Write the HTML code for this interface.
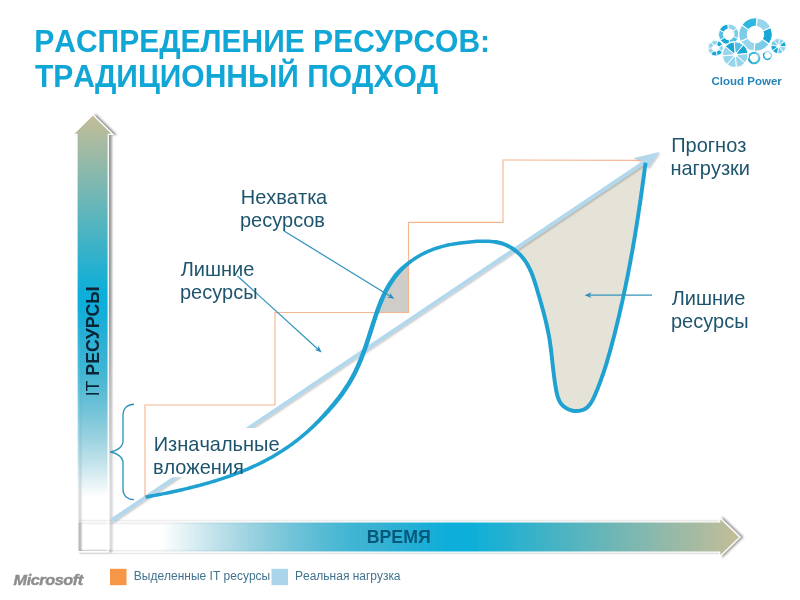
<!DOCTYPE html>
<html lang="ru">
<head>
<meta charset="utf-8">
<title>Распределение ресурсов: традиционный подход</title>
<style>
html,body{margin:0;padding:0;background:#fff;}
body{width:800px;height:600px;overflow:hidden;position:relative;font-family:"Liberation Sans",sans-serif;}
svg{position:absolute;left:0;top:0;display:block;}
text{font-family:"Liberation Sans",sans-serif;font-kerning:none;}
.title{font-weight:bold;font-size:30px;fill:#10a6d5;font-kerning:none;}
.lbl{font-size:20px;fill:#1f546d;}
.axis{font-weight:bold;font-size:17.7px;fill:#0a2436;}
.leg{font-size:12px;fill:#41728e;}
</style>
</head>
<body>
<svg width="800" height="600" viewBox="0 0 800 600">
  <defs>
    <linearGradient id="gv" x1="0" y1="551.5" x2="0" y2="115.3" gradientUnits="userSpaceOnUse">
      <stop offset="0" stop-color="#0996bc" stop-opacity="0"/>
      <stop offset="0.125" stop-color="#0996bc" stop-opacity="0"/>
      <stop offset="0.563" stop-color="#09aeda" stop-opacity="1"/>
      <stop offset="0.585" stop-color="#09aeda" stop-opacity="1"/>
      <stop offset="1" stop-color="#c4bd97"/>
    </linearGradient>
    <linearGradient id="gh" x1="77.3" y1="0" x2="739.6" y2="0" gradientUnits="userSpaceOnUse">
      <stop offset="0" stop-color="#0996bc" stop-opacity="0"/>
      <stop offset="0.125" stop-color="#0996bc" stop-opacity="0"/>
      <stop offset="0.563" stop-color="#09aeda" stop-opacity="1"/>
      <stop offset="0.585" stop-color="#09aeda" stop-opacity="1"/>
      <stop offset="1" stop-color="#c4bd97"/>
    </linearGradient>
    <filter id="lsh" x="-5%" y="-5%" width="110%" height="110%">
      <feGaussianBlur in="SourceAlpha" stdDeviation="1" result="b"/>
      <feOffset in="b" dx="0.6" dy="0.8" result="o"/>
      <feComponentTransfer in="o" result="s"><feFuncA type="linear" slope="0.28"/></feComponentTransfer>
      <feMerge><feMergeNode in="s"/><feMergeNode in="SourceGraphic"/></feMerge>
    </filter>
    <filter id="sh" x="-20%" y="-20%" width="140%" height="140%">
      <feGaussianBlur in="SourceAlpha" stdDeviation="1.25" result="b"/>
      <feOffset in="b" dx="3.1" dy="0.15" result="o"/>
      <feComponentTransfer in="o" result="s"><feFuncA type="linear" slope="0.4"/></feComponentTransfer>
      <feMerge><feMergeNode in="s"/><feMergeNode in="SourceGraphic"/></feMerge>
    </filter>
  </defs>

  <!-- title -->
  <text class="title" transform="translate(34.3 51.5) scale(1 1.04)">РАСПРЕДЕЛЕНИЕ РЕСУРСОВ:</text>
  <text class="title" transform="translate(35 86.6) scale(1 1.04)">ТРАДИЦИОННЫЙ ПОДХОД</text>

  <!-- axes arrows -->
  <g filter="url(#sh)">
    <path d="M76.9 522 H719.7 V517.7 L739.8 537.1 L719.7 556.5 V552.2 H76.9 Z" fill="url(#gh)" stroke="#fff" stroke-width="1.2" stroke-linejoin="miter"/>
  </g>
  <g filter="url(#sh)">
    <path d="M77 551.6 V134.3 H73.1 L92.9 114.85 L112.7 134.3 H108.2 V551.6 Z" fill="url(#gv)" stroke="#fff" stroke-width="1.2" stroke-linejoin="miter"/>
  </g>
  <text class="axis" transform="translate(98.5,396.3) rotate(-90) scale(1 1.04)"><tspan font-weight="normal">IT</tspan> РЕСУРСЫ</text>
  <text class="axis" transform="translate(398.7 543.1) scale(1 1.04)" text-anchor="middle" style="fill:#06587a">ВРЕМЯ</text>

  <!-- shaded regions -->
  <path id="gray" d="M376.6 313.2 L377.3 311.0 L378.2 308.7 L379.0 306.5 L379.8 304.3 L380.7 302.2 L381.6 300.0 L382.5 297.9 L383.5 295.7 L384.5 293.6 L385.5 291.6 L386.6 289.5 L387.7 287.5 L388.9 285.5 L390.1 283.5 L391.3 281.6 L392.6 279.7 L394.0 277.9 L395.4 276.0 L396.8 274.2 L398.4 272.5 L399.9 270.8 L401.6 269.1 L403.3 267.5 L405.0 265.9 L406.8 264.4 L408.7 262.9 L408.6 262.9 L408.6 312.6 Z" fill="#cecdc9"/>
  <path id="beige" d="M513.1 250.5 L515.0 250.3 L516.8 251.8 L518.6 253.3 L520.3 255.0 L521.9 256.7 L523.4 258.5 L524.8 260.3 L526.1 262.3 L527.3 264.2 L528.4 266.2 L529.4 268.3 L530.4 270.4 L531.3 272.6 L532.2 274.7 L533.0 276.9 L533.8 279.2 L534.6 281.4 L535.3 283.7 L536.0 285.9 L536.6 288.2 L537.3 290.5 L538.0 292.7 L538.7 295.0 L539.3 297.3 L540.0 299.5 L540.6 301.8 L541.3 304.1 L541.9 306.3 L542.5 308.6 L543.2 310.9 L543.8 313.1 L544.4 315.4 L544.9 317.6 L545.5 319.9 L546.0 322.2 L546.6 324.5 L547.1 326.7 L547.6 329.0 L548.0 331.3 L548.5 333.6 L548.9 335.9 L549.3 338.2 L549.7 340.5 L550.1 342.8 L550.4 345.1 L550.7 347.4 L551.0 349.8 L551.3 352.1 L551.6 354.4 L551.8 356.7 L552.1 359.1 L552.3 361.4 L552.6 363.7 L552.8 366.1 L553.1 368.4 L553.4 370.7 L553.6 373.1 L553.9 375.4 L554.2 377.7 L554.5 380.1 L554.9 382.4 L555.2 384.7 L555.6 387.0 L556.0 389.3 L556.5 391.6 L557.0 393.9 L557.5 396.1 L558.2 398.3 L559.1 400.4 L560.2 402.4 L561.5 404.3 L563.2 405.9 L565.1 407.4 L567.2 408.7 L569.4 409.7 L571.8 410.5 L574.2 410.9 L576.6 411.0 L579.0 410.9 L581.2 410.4 L583.4 409.7 L585.3 408.7 L587.1 407.4 L588.7 405.9 L590.1 404.1 L591.4 402.2 L592.5 400.2 L593.6 398.0 L594.6 395.8 L595.6 393.6 L596.5 391.4 L597.4 389.1 L598.3 386.9 L599.2 384.7 L600.0 382.4 L600.8 380.2 L601.6 378.0 L602.4 375.7 L603.2 373.5 L603.9 371.3 L604.7 369.0 L605.4 366.8 L606.1 364.6 L606.8 362.3 L607.4 360.1 L608.1 357.9 L608.7 355.6 L609.4 353.4 L610.0 351.2 L610.6 348.9 L611.2 346.7 L611.8 344.4 L612.4 342.2 L613.0 339.9 L613.6 337.7 L614.2 335.4 L614.8 333.2 L615.3 330.9 L615.9 328.7 L616.5 326.4 L617.0 324.1 L617.6 321.9 L618.1 319.6 L618.6 317.3 L619.2 315.1 L619.7 312.8 L620.2 310.5 L620.8 308.2 L621.3 305.9 L621.8 303.7 L622.3 301.4 L622.8 299.1 L623.3 296.8 L623.8 294.5 L624.3 292.2 L624.8 289.9 L625.2 287.6 L625.7 285.3 L626.2 283.0 L626.6 280.7 L627.1 278.4 L627.6 276.1 L628.0 273.8 L628.5 271.5 L628.9 269.2 L629.3 266.9 L629.8 264.6 L630.2 262.3 L630.6 260.0 L631.1 257.7 L631.5 255.4 L631.9 253.1 L632.3 250.7 L632.7 248.4 L633.1 246.1 L633.5 243.8 L633.9 241.5 L634.3 239.2 L634.7 236.9 L635.1 234.5 L635.5 232.2 L635.9 229.9 L636.2 227.6 L636.6 225.3 L637.0 222.9 L637.4 220.6 L637.7 218.3 L638.1 216.0 L638.4 213.7 L638.8 211.4 L639.1 209.0 L639.5 206.7 L639.8 204.4 L640.2 202.1 L640.5 199.8 L640.8 197.4 L641.2 195.1 L641.5 192.8 L641.8 190.5 L642.2 188.2 L642.5 185.9 L642.8 183.5 L643.1 181.2 L643.4 178.9 L643.7 176.6 L644.0 174.3 L644.3 172.0 L644.6 169.7 L644.9 167.4 L645.2 165.1 L645.5 162.8 Z" fill="#e5e3d8"/>

  <!-- diagonal forecast line -->
  <g filter="url(#lsh)">
    <line x1="111.6" y1="520.3" x2="643" y2="163.1" stroke="#b1d8ec" stroke-width="3.8"/>
    <path d="M659.3 152 L633.3 158.3 L642.5 161.6 L648 168.3 Z" fill="#b1d8ec"/>
  </g>

  <!-- text box covering the diagonal -->
  <rect x="148" y="428" width="150" height="49.3" fill="#fff"/>

  <!-- orange step line -->
  <path d="M145 497 V405 H275 V312.5 H408.5 V222.4 H503 V160 L641 160.4" fill="none" stroke="#f4b691" stroke-width="1.15"/>

  <!-- load curve -->
  <path id="curve" d="M145.9 498.8 L148.2 498.4 L150.4 498.0 L152.7 497.6 L155.0 497.1 L157.3 496.7 L159.6 496.2 L161.8 495.8 L164.1 495.3 L166.4 494.9 L168.7 494.4 L171.0 493.9 L173.3 493.4 L175.6 492.9 L177.9 492.4 L180.2 491.9 L182.5 491.4 L184.8 490.8 L187.1 490.3 L189.4 489.7 L191.7 489.2 L194.0 488.6 L196.3 488.0 L198.5 487.4 L200.8 486.8 L203.1 486.2 L205.4 485.6 L207.7 484.9 L209.9 484.3 L212.2 483.6 L214.5 482.9 L216.7 482.2 L219.0 481.5 L221.2 480.8 L223.5 480.0 L225.7 479.3 L228.0 478.5 L230.2 477.7 L232.4 476.9 L234.6 476.1 L236.8 475.3 L239.0 474.4 L241.2 473.6 L243.4 472.7 L245.6 471.8 L247.7 470.9 L249.9 469.9 L252.1 469.0 L254.2 468.0 L256.3 467.0 L258.5 466.0 L260.6 465.0 L262.7 463.9 L264.8 462.9 L266.8 461.8 L268.9 460.7 L271.0 459.6 L273.0 458.4 L275.0 457.2 L277.1 456.0 L279.1 454.8 L281.1 453.6 L283.0 452.3 L285.0 451.1 L287.0 449.7 L288.9 448.4 L290.8 447.1 L292.8 445.7 L294.6 444.3 L296.5 442.9 L298.4 441.4 L300.2 440.0 L302.1 438.5 L303.9 437.0 L305.7 435.4 L307.5 433.9 L309.3 432.4 L311.1 430.8 L312.8 429.2 L314.6 427.6 L316.3 426.0 L318.0 424.3 L319.7 422.7 L321.4 421.0 L323.1 419.3 L324.8 417.6 L326.4 415.9 L328.0 414.1 L329.7 412.4 L331.2 410.6 L332.8 408.8 L334.4 407.0 L335.9 405.2 L337.4 403.4 L338.9 401.5 L340.4 399.7 L341.9 397.8 L343.3 395.9 L344.7 394.0 L346.0 392.0 L347.4 390.1 L348.7 388.1 L350.0 386.1 L351.2 384.1 L352.4 382.1 L353.6 380.0 L354.7 378.0 L355.8 375.9 L356.9 373.8 L357.9 371.7 L358.9 369.5 L359.9 367.4 L360.9 365.2 L361.8 363.1 L362.7 360.9 L363.6 358.7 L364.4 356.5 L365.2 354.3 L366.1 352.1 L366.9 349.9 L367.6 347.7 L368.4 345.4 L369.2 343.2 L369.9 340.9 L370.6 338.7 L371.4 336.4 L372.1 334.2 L372.8 331.9 L373.5 329.7 L374.3 327.4 L375.0 325.1 L375.7 322.9 L376.4 320.6 L377.2 318.4 L377.9 316.1 L378.7 313.9 L379.5 311.7 L380.3 309.5 L381.1 307.3 L381.9 305.2 L382.8 303.0 L383.7 300.9 L384.6 298.8 L385.5 296.7 L386.5 294.6 L387.5 292.6 L388.6 290.6 L389.7 288.6 L390.8 286.7 L392.0 284.7 L393.2 282.9 L394.5 281.0 L395.8 279.2 L397.1 277.4 L398.5 275.7 L400.0 274.0 L401.5 272.3 L403.1 270.6 L404.7 269.0 L406.3 267.4 L408.1 265.9 L409.8 264.4 L411.7 263.0 L413.5 261.6 L415.5 260.2 L417.4 259.0 L419.4 257.8 L421.5 256.6 L423.5 255.5 L425.6 254.5 L427.7 253.5 L429.9 252.5 L432.0 251.7 L434.1 250.8 L436.3 250.1 L438.5 249.4 L440.7 248.7 L442.8 248.1 L445.0 247.6 L447.3 247.0 L449.5 246.6 L451.7 246.1 L454.0 245.7 L456.2 245.4 L458.5 245.0 L460.8 244.7 L463.1 244.5 L465.4 244.2 L467.8 243.9 L470.1 243.7 L472.5 243.5 L474.8 243.3 L477.2 243.1 L479.5 243.0 L481.8 242.9 L484.2 242.9 L486.5 242.9 L488.8 243.0 L491.1 243.2 L493.3 243.4 L495.5 244.0 L497.7 244.4 L499.9 244.9 L502.0 245.6 L504.0 246.3 L506.1 247.2 L508.1 248.2 L510.0 249.3 L511.9 250.5 L513.8 251.9 L515.6 253.3 L517.3 254.8 L518.9 256.3 L520.4 258.0 L521.8 259.7 L523.1 261.5 L524.4 263.3 L525.6 265.2 L526.6 267.2 L527.7 269.2 L528.6 271.2 L529.5 273.3 L530.4 275.4 L531.2 277.6 L531.9 279.8 L532.7 282.0 L533.4 284.2 L534.1 286.5 L534.8 288.8 L535.4 291.0 L536.1 293.3 L536.8 295.6 L537.4 297.8 L538.1 300.1 L538.7 302.3 L539.4 304.6 L540.0 306.9 L540.6 309.1 L541.3 311.4 L541.9 313.6 L542.4 315.9 L543.0 318.1 L543.6 320.4 L544.1 322.6 L544.6 324.9 L545.1 327.2 L545.6 329.4 L546.1 331.7 L546.6 334.0 L547.0 336.2 L547.4 338.5 L547.8 340.8 L548.1 343.1 L548.4 345.4 L548.7 347.7 L549.0 350.0 L549.3 352.3 L549.6 354.6 L549.9 357.0 L550.1 359.3 L550.4 361.6 L550.6 364.0 L550.9 366.3 L551.1 368.6 L551.4 371.0 L551.7 373.3 L552.0 375.7 L552.3 378.0 L552.6 380.3 L552.9 382.7 L553.3 385.0 L553.7 387.3 L554.1 389.7 L554.5 392.0 L555.0 394.3 L555.6 396.7 L556.4 399.0 L557.3 401.3 L558.5 403.4 L560.0 405.5 L561.8 407.4 L563.9 409.1 L566.3 410.5 L568.7 411.6 L571.3 412.4 L574.0 412.9 L576.6 413.0 L579.2 412.8 L581.7 412.3 L584.1 411.5 L586.4 410.4 L588.4 408.9 L590.1 407.2 L591.7 405.3 L593.0 403.3 L594.3 401.1 L595.4 398.9 L596.4 396.6 L597.4 394.4 L598.3 392.1 L599.3 389.9 L600.1 387.6 L601.0 385.4 L601.9 383.1 L602.7 380.9 L603.5 378.6 L604.3 376.4 L605.1 374.1 L605.8 371.9 L606.5 369.7 L607.3 367.4 L608.0 365.2 L608.7 362.9 L609.3 360.7 L610.0 358.4 L610.6 356.2 L611.3 353.9 L611.9 351.7 L612.5 349.4 L613.1 347.2 L613.8 345.0 L614.3 342.7 L614.9 340.4 L615.5 338.2 L616.1 335.9 L616.7 333.7 L617.3 331.4 L617.8 329.1 L618.4 326.9 L618.9 324.6 L619.5 322.3 L620.0 320.1 L620.6 317.8 L621.1 315.5 L621.6 313.2 L622.2 310.9 L622.7 308.7 L623.2 306.4 L623.7 304.1 L624.2 301.8 L624.7 299.5 L625.2 297.2 L625.7 294.9 L626.2 292.6 L626.7 290.3 L627.2 288.0 L627.6 285.7 L628.1 283.4 L628.6 281.1 L629.0 278.8 L629.5 276.5 L630.0 274.2 L630.4 271.9 L630.8 269.6 L631.3 267.3 L631.7 265.0 L632.2 262.7 L632.6 260.3 L633.0 258.0 L633.4 255.7 L633.9 253.4 L634.3 251.1 L634.7 248.8 L635.1 246.5 L635.5 244.1 L635.9 241.8 L636.3 239.5 L636.7 237.2 L637.1 234.9 L637.4 232.5 L637.8 230.2 L638.2 227.9 L638.6 225.6 L638.9 223.3 L639.3 220.9 L639.7 218.6 L640.0 216.3 L640.4 214.0 L640.7 211.6 L641.1 209.3 L641.4 207.0 L641.8 204.7 L642.1 202.4 L642.5 200.0 L642.8 197.7 L643.1 195.4 L643.5 193.1 L643.8 190.8 L644.1 188.5 L644.4 186.1 L644.7 183.8 L645.1 181.5 L645.4 179.2 L645.7 176.9 L646.0 174.6 L646.3 172.2 L646.6 169.9 L646.9 167.6 L647.2 165.3 L647.5 163.0 L643.6 162.5 L643.3 164.8 L643.0 167.1 L642.7 169.4 L642.4 171.7 L642.1 174.0 L641.8 176.3 L641.5 178.7 L641.1 181.0 L640.8 183.3 L640.5 185.6 L640.2 187.9 L639.9 190.2 L639.5 192.5 L639.2 194.8 L638.9 197.2 L638.6 199.5 L638.2 201.8 L637.9 204.1 L637.5 206.4 L637.2 208.7 L636.8 211.1 L636.5 213.4 L636.1 215.7 L635.8 218.0 L635.4 220.3 L635.0 222.6 L634.7 225.0 L634.3 227.3 L633.9 229.6 L633.5 231.9 L633.2 234.2 L632.8 236.5 L632.4 238.8 L632.0 241.2 L631.6 243.5 L631.2 245.8 L630.8 248.1 L630.4 250.4 L630.0 252.7 L629.5 255.0 L629.1 257.3 L628.7 259.6 L628.3 261.9 L627.8 264.2 L627.4 266.5 L627.0 268.8 L626.5 271.1 L626.1 273.4 L625.6 275.7 L625.2 278.0 L624.7 280.3 L624.2 282.6 L623.8 284.9 L623.3 287.2 L622.8 289.5 L622.3 291.8 L621.8 294.1 L621.4 296.4 L620.9 298.7 L620.4 300.9 L619.9 303.2 L619.3 305.5 L618.8 307.8 L618.3 310.1 L617.8 312.3 L617.3 314.6 L616.7 316.9 L616.2 319.1 L615.6 321.4 L615.1 323.7 L614.5 325.9 L614.0 328.2 L613.4 330.4 L612.9 332.7 L612.3 335.0 L611.7 337.2 L611.1 339.4 L610.5 341.7 L609.9 343.9 L609.3 346.2 L608.7 348.4 L608.1 350.6 L607.5 352.9 L606.8 355.1 L606.2 357.3 L605.5 359.5 L604.9 361.8 L604.2 364.0 L603.5 366.2 L602.8 368.4 L602.1 370.7 L601.3 372.9 L600.5 375.1 L599.8 377.3 L599.0 379.5 L598.2 381.7 L597.3 384.0 L596.5 386.2 L595.6 388.4 L594.7 390.6 L593.8 392.8 L592.8 395.1 L591.8 397.2 L590.8 399.3 L589.7 401.2 L588.5 403.0 L587.2 404.5 L585.8 405.9 L584.3 407.0 L582.6 407.9 L580.7 408.5 L578.7 408.9 L576.6 409.1 L574.4 408.9 L572.3 408.6 L570.1 407.9 L568.1 407.0 L566.2 405.8 L564.5 404.5 L563.1 403.0 L561.9 401.4 L560.9 399.6 L560.1 397.6 L559.4 395.6 L558.9 393.4 L558.4 391.2 L558.0 389.0 L557.6 386.7 L557.2 384.4 L556.8 382.1 L556.5 379.8 L556.2 377.5 L555.9 375.2 L555.6 372.8 L555.3 370.5 L555.1 368.2 L554.8 365.9 L554.5 363.5 L554.3 361.2 L554.0 358.9 L553.8 356.5 L553.5 354.2 L553.2 351.8 L553.0 349.5 L552.7 347.2 L552.3 344.8 L552.0 342.5 L551.7 340.2 L551.3 337.8 L550.9 335.5 L550.4 333.2 L550.0 330.9 L549.5 328.6 L549.0 326.3 L548.5 324.0 L548.0 321.7 L547.4 319.4 L546.8 317.2 L546.3 314.9 L545.7 312.6 L545.1 310.3 L544.4 308.1 L543.8 305.8 L543.2 303.5 L542.5 301.3 L541.9 299.0 L541.2 296.7 L540.6 294.5 L539.9 292.2 L539.2 289.9 L538.5 287.6 L537.9 285.4 L537.2 283.1 L536.4 280.8 L535.7 278.5 L534.9 276.3 L534.1 274.0 L533.2 271.8 L532.2 269.6 L531.2 267.4 L530.1 265.3 L529.0 263.2 L527.7 261.2 L526.4 259.2 L524.9 257.3 L523.4 255.4 L521.7 253.6 L519.9 251.9 L518.1 250.2 L516.2 248.7 L514.2 247.3 L512.1 245.9 L509.9 244.7 L507.7 243.6 L505.5 242.7 L503.2 241.8 L500.9 241.1 L498.5 240.6 L496.2 240.1 L493.8 240.0 L491.4 239.7 L489.0 239.5 L486.6 239.4 L484.2 239.4 L481.8 239.4 L479.3 239.5 L476.9 239.6 L474.5 239.8 L472.1 240.0 L469.8 240.2 L467.4 240.5 L465.1 240.7 L462.7 241.0 L460.4 241.3 L458.0 241.6 L455.7 241.9 L453.4 242.3 L451.1 242.7 L448.8 243.1 L446.5 243.6 L444.2 244.2 L442.0 244.7 L439.7 245.4 L437.4 246.0 L435.2 246.8 L432.9 247.6 L430.7 248.4 L428.5 249.3 L426.3 250.3 L424.1 251.3 L421.9 252.4 L419.8 253.5 L417.7 254.7 L415.6 256.0 L413.5 257.3 L411.5 258.7 L409.5 260.0 L407.5 261.4 L405.6 262.9 L403.7 264.4 L401.9 266.0 L400.1 267.6 L398.4 269.3 L396.7 271.0 L395.1 272.8 L393.6 274.6 L392.2 276.5 L390.8 278.4 L389.4 280.4 L388.2 282.3 L386.9 284.4 L385.7 286.4 L384.6 288.5 L383.5 290.5 L382.5 292.7 L381.5 294.8 L380.5 296.9 L379.5 299.1 L378.6 301.3 L377.7 303.5 L376.9 305.7 L376.0 308.0 L375.2 310.2 L374.4 312.4 L373.7 314.7 L372.9 317.0 L372.2 319.2 L371.4 321.5 L370.7 323.8 L370.0 326.0 L369.2 328.3 L368.5 330.6 L367.8 332.8 L367.1 335.1 L366.4 337.3 L365.6 339.5 L364.9 341.8 L364.1 344.0 L363.4 346.2 L362.6 348.4 L361.8 350.6 L361.0 352.8 L360.2 354.9 L359.4 357.1 L358.5 359.2 L357.6 361.3 L356.7 363.5 L355.8 365.6 L354.9 367.6 L353.9 369.7 L352.9 371.8 L351.8 373.8 L350.8 375.8 L349.7 377.8 L348.5 379.8 L347.4 381.8 L346.2 383.7 L344.9 385.6 L343.6 387.6 L342.3 389.5 L341.0 391.3 L339.7 393.2 L338.3 395.1 L336.9 396.9 L335.4 398.8 L334.0 400.6 L332.5 402.4 L331.0 404.2 L329.5 406.0 L328.0 407.8 L326.5 409.5 L324.9 411.3 L323.3 413.0 L321.8 414.8 L320.2 416.5 L318.6 418.2 L317.0 419.9 L315.3 421.6 L313.7 423.2 L312.0 424.9 L310.3 426.5 L308.6 428.1 L306.9 429.7 L305.2 431.2 L303.4 432.8 L301.7 434.3 L299.9 435.8 L298.1 437.2 L296.2 438.7 L294.4 440.1 L292.6 441.5 L290.7 442.9 L288.8 444.2 L286.9 445.5 L285.0 446.8 L283.1 448.1 L281.2 449.4 L279.2 450.6 L277.2 451.8 L275.3 453.0 L273.3 454.2 L271.3 455.4 L269.3 456.5 L267.2 457.6 L265.2 458.7 L263.2 459.8 L261.1 460.8 L259.0 461.9 L256.9 462.9 L254.8 463.9 L252.7 464.8 L250.6 465.8 L248.5 466.7 L246.4 467.7 L244.2 468.6 L242.1 469.4 L239.9 470.3 L237.8 471.2 L235.6 472.0 L233.4 472.8 L231.2 473.6 L229.0 474.4 L226.8 475.2 L224.6 476.0 L222.4 476.7 L220.2 477.4 L217.9 478.2 L215.7 478.9 L213.5 479.6 L211.2 480.2 L209.0 480.9 L206.7 481.5 L204.4 482.2 L202.2 482.8 L199.9 483.4 L197.7 484.0 L195.4 484.6 L193.1 485.2 L190.8 485.8 L188.6 486.3 L186.3 486.9 L184.0 487.4 L181.7 488.0 L179.4 488.5 L177.1 489.0 L174.9 489.5 L172.6 490.0 L170.3 490.5 L168.0 491.0 L165.7 491.4 L163.4 491.9 L161.2 492.4 L158.9 492.8 L156.6 493.3 L154.3 493.7 L152.1 494.1 L149.8 494.6 L147.5 495.0 L145.3 495.4 Z" fill="#1fa2d1"/>

  <!-- brace -->
  <path d="M134 404.2 C128 404.2 123 408 123 415 V441 C123 447 117 451 110.2 452 C117 453 123 457 123 463 V489 C123 496 128 499.6 134 499.6" fill="none" stroke="#3193ba" stroke-width="1.35"/>

  <!-- pointer arrows -->
  <g stroke="#3394bd" stroke-width="1.25" fill="none">
    <line x1="283.7" y1="230.7" x2="390.2" y2="296.3"/>
    <line x1="237.5" y1="276.0" x2="318.0" y2="349.2"/>
    <line x1="652.0" y1="295.2" x2="589.4" y2="295.2"/>
  </g>
  <g fill="#2b8db6">
    <path d="M394.3 298.8 L386.8 297.6 L390.2 296.3 L389.9 292.7 Z"/>
    <path d="M321.6 352.4 L314.5 349.8 L318.0 349.2 L318.4 345.5 Z"/>
    <path d="M584.6 295.2 L591.6 292.3 L589.4 295.2 L591.6 298.1 Z"/>
  </g>

  <!-- labels -->
  <text class="lbl" transform="translate(240.7 204.3) scale(1 1.04)">Нехватка</text>
  <text class="lbl" transform="translate(239.9 227.3) scale(1 1.04)">ресурсов</text>
  <text class="lbl" transform="translate(180.7 276.0) scale(1 1.04)">Лишние</text>
  <text class="lbl" transform="translate(179.9 299.0) scale(1 1.04)">ресурсы</text>
  <text class="lbl" transform="translate(153.7 450.5) scale(1 1.04)">Изначальные</text>
  <text class="lbl" transform="translate(152.9 473.7) scale(1 1.04)">вложения</text>
  <text class="lbl" transform="translate(671.2 152.0) scale(1 1.04)">Прогноз</text>
  <text class="lbl" transform="translate(670.4 175.0) scale(1 1.04)">нагрузки</text>
  <text class="lbl" transform="translate(671.7 305.0) scale(1 1.04)">Лишние</text>
  <text class="lbl" transform="translate(670.9 328.3) scale(1 1.04)">ресурсы</text>

  <!-- legend -->
  <rect x="110" y="568.8" width="16.5" height="16.4" fill="#f79646"/>
  <text class="leg" transform="translate(133.8 580.4) scale(1 1.04)">Выделенные IT ресурсы</text>
  <rect x="271.5" y="568.8" width="16.5" height="16.4" fill="#a9d4ea"/>
  <text class="leg" transform="translate(295 580.4) scale(1 1.04)">Реальная нагрузка</text>

  <!-- Microsoft -->
  <text transform="translate(13.6 585.2) scale(1.14 1)" font-size="14.2" font-weight="bold" font-style="italic" fill="#8e8e8e" stroke="#8e8e8e" stroke-width="0.45" letter-spacing="-0.35">Microsoft</text>

  <!-- Cloud Power logo -->
  <g id="logo">
    <circle cx="715.70" cy="48.20" r="8.60" fill="#fff"/>
    <path d="M717.72 40.67 A7.80 7.80 0 0 1 722.85 45.08 L718.82 46.84 A3.40 3.40 0 0 0 716.58 44.92 Z" fill="#1aa7d6" stroke="#fff" stroke-width="0.80" stroke-linejoin="round"/>
    <path d="M722.85 45.08 A7.80 7.80 0 0 1 722.60 51.84 L718.71 49.79 A3.40 3.40 0 0 0 718.82 46.84 Z" fill="#97d5ed" stroke="#fff" stroke-width="0.80" stroke-linejoin="round"/>
    <path d="M722.60 51.84 A7.80 7.80 0 0 1 717.15 55.86 L716.33 51.54 A3.40 3.40 0 0 0 718.71 49.79 Z" fill="#1aa7d6" stroke="#fff" stroke-width="0.80" stroke-linejoin="round"/>
    <path d="M717.15 55.86 A7.80 7.80 0 0 1 710.61 54.11 L713.48 50.78 A3.40 3.40 0 0 0 716.33 51.54 Z" fill="#1aa7d6" stroke="#fff" stroke-width="0.80" stroke-linejoin="round"/>
    <path d="M710.61 54.11 A7.80 7.80 0 0 1 707.91 47.91 L712.30 48.07 A3.40 3.40 0 0 0 713.48 50.78 Z" fill="#97d5ed" stroke="#fff" stroke-width="0.80" stroke-linejoin="round"/>
    <path d="M707.91 47.91 A7.80 7.80 0 0 1 711.07 41.92 L713.68 45.46 A3.40 3.40 0 0 0 712.30 48.07 Z" fill="#97d5ed" stroke="#fff" stroke-width="0.80" stroke-linejoin="round"/>
    <path d="M711.07 41.92 A7.80 7.80 0 0 1 717.72 40.67 L716.58 44.92 A3.40 3.40 0 0 0 713.68 45.46 Z" fill="#97d5ed" stroke="#fff" stroke-width="0.80" stroke-linejoin="round"/>
    <circle cx="728.70" cy="34.30" r="11.00" fill="#fff"/>
    <path d="M727.81 24.14 A10.20 10.20 0 0 1 737.06 28.45 L733.12 31.20 A5.40 5.40 0 0 0 728.23 28.92 Z" fill="#97d5ed" stroke="#fff" stroke-width="0.90" stroke-linejoin="round"/>
    <path d="M737.06 28.45 A10.20 10.20 0 0 1 737.94 38.61 L733.59 36.58 A5.40 5.40 0 0 0 733.12 31.20 Z" fill="#7ccbe8" stroke="#fff" stroke-width="0.90" stroke-linejoin="round"/>
    <path d="M737.94 38.61 A10.20 10.20 0 0 1 729.59 44.46 L729.17 39.68 A5.40 5.40 0 0 0 733.59 36.58 Z" fill="#55c0e4" stroke="#fff" stroke-width="0.90" stroke-linejoin="round"/>
    <path d="M729.59 44.46 A10.20 10.20 0 0 1 720.34 40.15 L724.28 37.40 A5.40 5.40 0 0 0 729.17 39.68 Z" fill="#1aa7d6" stroke="#fff" stroke-width="0.90" stroke-linejoin="round"/>
    <path d="M720.34 40.15 A10.20 10.20 0 0 1 719.46 29.99 L723.81 32.02 A5.40 5.40 0 0 0 724.28 37.40 Z" fill="#55c0e4" stroke="#fff" stroke-width="0.90" stroke-linejoin="round"/>
    <path d="M719.46 29.99 A10.20 10.20 0 0 1 727.81 24.14 L728.23 28.92 A5.40 5.40 0 0 0 723.81 32.02 Z" fill="#1aa7d6" stroke="#fff" stroke-width="0.90" stroke-linejoin="round"/>
    <circle cx="778.50" cy="46.10" r="8.40" fill="#fff"/>
    <path d="M779.43 38.56 A7.60 7.60 0 0 1 784.49 41.42 L779.84 45.05 A1.70 1.70 0 0 0 778.71 44.41 Z" fill="#97d5ed" stroke="#fff" stroke-width="0.80" stroke-linejoin="round"/>
    <path d="M784.49 41.42 A7.60 7.60 0 0 1 786.04 47.03 L780.19 46.31 A1.70 1.70 0 0 0 779.84 45.05 Z" fill="#1aa7d6" stroke="#fff" stroke-width="0.80" stroke-linejoin="round"/>
    <path d="M786.04 47.03 A7.60 7.60 0 0 1 783.18 52.09 L779.55 47.44 A1.70 1.70 0 0 0 780.19 46.31 Z" fill="#97d5ed" stroke="#fff" stroke-width="0.80" stroke-linejoin="round"/>
    <path d="M783.18 52.09 A7.60 7.60 0 0 1 777.57 53.64 L778.29 47.79 A1.70 1.70 0 0 0 779.55 47.44 Z" fill="#7ccbe8" stroke="#fff" stroke-width="0.80" stroke-linejoin="round"/>
    <path d="M777.57 53.64 A7.60 7.60 0 0 1 772.51 50.78 L777.16 47.15 A1.70 1.70 0 0 0 778.29 47.79 Z" fill="#1aa7d6" stroke="#fff" stroke-width="0.80" stroke-linejoin="round"/>
    <path d="M772.51 50.78 A7.60 7.60 0 0 1 770.96 45.17 L776.81 45.89 A1.70 1.70 0 0 0 777.16 47.15 Z" fill="#1aa7d6" stroke="#fff" stroke-width="0.80" stroke-linejoin="round"/>
    <path d="M770.96 45.17 A7.60 7.60 0 0 1 773.82 40.11 L777.45 44.76 A1.70 1.70 0 0 0 776.81 45.89 Z" fill="#7ccbe8" stroke="#fff" stroke-width="0.80" stroke-linejoin="round"/>
    <path d="M773.82 40.11 A7.60 7.60 0 0 1 779.43 38.56 L778.71 44.41 A1.70 1.70 0 0 0 777.45 44.76 Z" fill="#97d5ed" stroke="#fff" stroke-width="0.80" stroke-linejoin="round"/>
    <circle cx="755.50" cy="34.50" r="17.50" fill="#fff"/>
    <path d="M756.96 17.86 A16.70 16.70 0 0 1 770.64 27.44 L762.84 31.08 A8.10 8.10 0 0 0 756.21 26.43 Z" fill="#97d5ed" stroke="#fff" stroke-width="1.10" stroke-linejoin="round"/>
    <path d="M770.64 27.44 A16.70 16.70 0 0 1 769.18 44.08 L762.14 39.15 A8.10 8.10 0 0 0 762.84 31.08 Z" fill="#1aa7d6" stroke="#fff" stroke-width="1.10" stroke-linejoin="round"/>
    <path d="M769.18 44.08 A16.70 16.70 0 0 1 754.04 51.14 L754.79 42.57 A8.10 8.10 0 0 0 762.14 39.15 Z" fill="#7ccbe8" stroke="#fff" stroke-width="1.10" stroke-linejoin="round"/>
    <path d="M754.04 51.14 A16.70 16.70 0 0 1 740.36 41.56 L748.16 37.92 A8.10 8.10 0 0 0 754.79 42.57 Z" fill="#97d5ed" stroke="#fff" stroke-width="1.10" stroke-linejoin="round"/>
    <path d="M740.36 41.56 A16.70 16.70 0 0 1 741.82 24.92 L748.86 29.85 A8.10 8.10 0 0 0 748.16 37.92 Z" fill="#7ccbe8" stroke="#fff" stroke-width="1.10" stroke-linejoin="round"/>
    <path d="M741.82 24.92 A16.70 16.70 0 0 1 756.96 17.86 L756.21 26.43 A8.10 8.10 0 0 0 748.86 29.85 Z" fill="#2db7e0" stroke="#fff" stroke-width="1.10" stroke-linejoin="round"/>
    <circle cx="767.50" cy="55.50" r="5.30" fill="#fff"/>
    <path d="M770.82 52.18 A4.70 4.70 0 0 1 770.82 58.82 L769.69 57.69 A3.10 3.10 0 0 0 769.69 53.31 Z" fill="#97d5ed" stroke="#fff" stroke-width="0.00" stroke-linejoin="round"/>
    <path d="M770.82 58.82 A4.70 4.70 0 0 1 764.18 58.82 L765.31 57.69 A3.10 3.10 0 0 0 769.69 57.69 Z" fill="#1aa7d6" stroke="#fff" stroke-width="0.00" stroke-linejoin="round"/>
    <path d="M764.18 58.82 A4.70 4.70 0 0 1 764.18 52.18 L765.31 53.31 A3.10 3.10 0 0 0 765.31 57.69 Z" fill="#1aa7d6" stroke="#fff" stroke-width="0.00" stroke-linejoin="round"/>
    <path d="M764.18 52.18 A4.70 4.70 0 0 1 770.82 52.18 L769.69 53.31 A3.10 3.10 0 0 0 765.31 53.31 Z" fill="#b5e1f2" stroke="#fff" stroke-width="0.00" stroke-linejoin="round"/>
    <circle cx="754.00" cy="58.00" r="6.90" fill="#fff"/>
    <path d="M756.15 52.08 A6.30 6.30 0 0 1 760.20 56.91 L758.14 57.27 A4.20 4.20 0 0 0 755.44 54.05 Z" fill="#7ccbe8" stroke="#fff" stroke-width="0.00" stroke-linejoin="round"/>
    <path d="M760.20 56.91 A6.30 6.30 0 0 1 758.05 62.83 L756.70 61.22 A4.20 4.20 0 0 0 758.14 57.27 Z" fill="#55c0e4" stroke="#fff" stroke-width="0.00" stroke-linejoin="round"/>
    <path d="M758.05 62.83 A6.30 6.30 0 0 1 751.85 63.92 L752.56 61.95 A4.20 4.20 0 0 0 756.70 61.22 Z" fill="#2db7e0" stroke="#fff" stroke-width="0.00" stroke-linejoin="round"/>
    <path d="M751.85 63.92 A6.30 6.30 0 0 1 747.80 59.09 L749.86 58.73 A4.20 4.20 0 0 0 752.56 61.95 Z" fill="#1aa7d6" stroke="#fff" stroke-width="0.00" stroke-linejoin="round"/>
    <path d="M747.80 59.09 A6.30 6.30 0 0 1 749.95 53.17 L751.30 54.78 A4.20 4.20 0 0 0 749.86 58.73 Z" fill="#2db7e0" stroke="#fff" stroke-width="0.00" stroke-linejoin="round"/>
    <path d="M749.95 53.17 A6.30 6.30 0 0 1 756.15 52.08 L755.44 54.05 A4.20 4.20 0 0 0 751.30 54.78 Z" fill="#2db7e0" stroke="#fff" stroke-width="0.00" stroke-linejoin="round"/>
    <circle cx="735.20" cy="54.70" r="13.70" fill="#fff"/>
    <path d="M734.08 41.85 A12.90 12.90 0 0 1 743.49 44.82 L736.61 53.01 A2.20 2.20 0 0 0 735.01 52.51 Z" fill="#55c0e4" stroke="#fff" stroke-width="1.00" stroke-linejoin="round"/>
    <path d="M743.49 44.82 A12.90 12.90 0 0 1 748.05 53.58 L737.39 54.51 A2.20 2.20 0 0 0 736.61 53.01 Z" fill="#1aa7d6" stroke="#fff" stroke-width="1.00" stroke-linejoin="round"/>
    <path d="M748.05 53.58 A12.90 12.90 0 0 1 745.08 62.99 L736.89 56.11 A2.20 2.20 0 0 0 737.39 54.51 Z" fill="#97d5ed" stroke="#fff" stroke-width="1.00" stroke-linejoin="round"/>
    <path d="M745.08 62.99 A12.90 12.90 0 0 1 736.32 67.55 L735.39 56.89 A2.20 2.20 0 0 0 736.89 56.11 Z" fill="#97d5ed" stroke="#fff" stroke-width="1.00" stroke-linejoin="round"/>
    <path d="M736.32 67.55 A12.90 12.90 0 0 1 726.91 64.58 L733.79 56.39 A2.20 2.20 0 0 0 735.39 56.89 Z" fill="#97d5ed" stroke="#fff" stroke-width="1.00" stroke-linejoin="round"/>
    <path d="M726.91 64.58 A12.90 12.90 0 0 1 722.35 55.82 L733.01 54.89 A2.20 2.20 0 0 0 733.79 56.39 Z" fill="#97d5ed" stroke="#fff" stroke-width="1.00" stroke-linejoin="round"/>
    <path d="M722.35 55.82 A12.90 12.90 0 0 1 725.32 46.41 L733.51 53.29 A2.20 2.20 0 0 0 733.01 54.89 Z" fill="#97d5ed" stroke="#fff" stroke-width="1.00" stroke-linejoin="round"/>
    <path d="M725.32 46.41 A12.90 12.90 0 0 1 734.08 41.85 L735.01 52.51 A2.20 2.20 0 0 0 733.51 53.29 Z" fill="#1aa7d6" stroke="#fff" stroke-width="1.00" stroke-linejoin="round"/>
  </g>
  <text x="746.7" y="84.6" text-anchor="middle" font-size="11.5" font-weight="bold" fill="#2584ba">Cloud Power</text>
</svg>
</body>
</html>
